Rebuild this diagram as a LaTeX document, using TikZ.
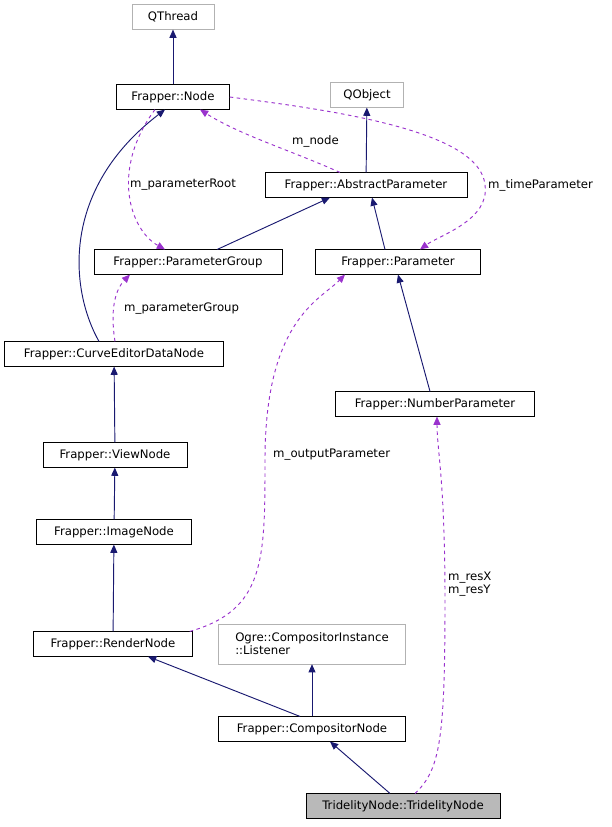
\documentclass[tikz,border=0pt]{standalone}
\usepackage{fontspec}
\setmainfont{DejaVu Sans}
\usetikzlibrary{arrows.meta, positioning}

\tikzset{
  cls/.style={draw=black, fill=white, font=\fontsize{10}{11}\selectfont, minimum height=0.74cm, inner sep=2pt},
  ext/.style={cls, draw=gray!60},
  inh/.style={draw={rgb,255:red,25;green,25;blue,112}, line width=0.8pt, -{Triangle[length=7pt,width=6pt]}},
  use/.style={draw={rgb,255:red,154;green,50;blue,205}, line width=0.8pt, dashed, -{Triangle[length=7pt,width=6pt]}},
  lbl/.style={font=\fontsize{10}{11}\selectfont, align=left, anchor=west, inner sep=0pt}
}

\begin{document}
\begin{tikzpicture}[x=0.03cm, y=-0.03cm]
\useasboundingbox (0,0) rectangle (612,827);

% classes
\node[ext, minimum width=2.46cm] (qthread) at (173,17) {QThread};
\node[cls, minimum width=3.39cm] (node) at (173,97) {Frapper::Node};
\node[ext, minimum width=2.19cm] (qobject) at (367,95) {QObject};
\node[cls, minimum width=6.06cm] (absparam) at (366,185) {Frapper::AbstractParameter};
\node[cls, minimum width=5.64cm] (paramgroup) at (188,262) {Frapper::ParameterGroup};
\node[cls, minimum width=4.95cm] (param) at (398,262) {Frapper::Parameter};
\node[cls, minimum width=6.57cm] (curvenode) at (114,354) {Frapper::CurveEditorDataNode};
\node[cls, minimum width=5.97cm] (numparam) at (435,404) {Frapper::NumberParameter};
\node[cls, minimum width=4.32cm] (viewnode) at (115,455) {Frapper::ViewNode};
\node[cls, minimum width=4.65cm] (imagenode) at (114,532) {Frapper::ImageNode};
\node[cls, minimum width=4.77cm] (rendernode) at (113,644) {Frapper::RenderNode};
\node[ext, minimum width=5.61cm, minimum height=1.2cm, align=left] (listener) at (312,644) {Ogre::CompositorInstance\\::Listener};
\node[cls, minimum width=5.61cm] (compnode) at (312,729) {Frapper::CompositorNode};
\node[cls, fill=gray!55, minimum width=5.82cm] (tridnode) at (403,806) {TridelityNode::TridelityNode};

% inheritance
\draw[inh] (paramgroup.north east) ++(-65,0) coordinate (pgtop) (pgtop) -- (absparam.south -| 330,0);
\draw[inh] (node) -- (qthread);
\draw[inh] (absparam) -- (qobject);
\draw[inh] (param.north) ++(-13,0) -- (absparam.south -| 372,0);
\draw[inh] (curvenode.north) ++(-15,0) .. controls (70,290) and (60,190) .. (node.south -| 165,0);
\draw[inh] (numparam.north) ++(-5,0) -- (param.south);
\draw[inh] (viewnode) -- (curvenode);
\draw[inh] (imagenode) -- (viewnode);
\draw[inh] (rendernode) -- (imagenode);
\draw[inh] (compnode.north -| 300,0) -- (rendernode.south -| 148,0);
\draw[inh] (compnode) -- (listener);
\draw[inh] (tridnode.north -| 390,0) -- (compnode.south -| 330,0);

% usage
\draw[use] (node.south -| 155,0) .. controls (110,170) and (130,230) .. (paramgroup.north -| 165,0);
\node[lbl] (lroot) at (130,185) {m\_parameterRoot};
\draw[use] (absparam.north -| 340,0) .. controls (290,150) and (240,135) .. (node.south -| 200,0);
\node[lbl] (lnode) at (292,141) {m\_node};
\draw[use] (node.east) .. controls (330,110) and (480,130) .. (485,185) .. controls (490,220) and (440,235) .. (param.north -| 420,0);
\node[lbl] (ltime) at (488,185) {m\_timeParameter};
\draw[use] (curvenode.north -| 115,0) .. controls (110,310) and (115,290) .. (paramgroup.south -| 130,0);
\node[lbl] (lgroup) at (124,309) {m\_parameterGroup};
\draw[use] (rendernode.north east) ++(-3,0) .. controls (265,610) and (265,560) .. (265,460) .. controls (265,320) and (320,300) .. (param.south -| 345,0);
\node[lbl] (lout) at (273,455) {m\_outputParameter};
\draw[use] (tridnode.north -| 415,0) .. controls (440,770) and (445,740) .. (445,600) .. controls (445,480) and (437,450) .. (numparam.south -| 437,0);
\node[lbl] (lres) at (448,584) {m\_resX\\m\_resY};
\end{tikzpicture}
\end{document}
